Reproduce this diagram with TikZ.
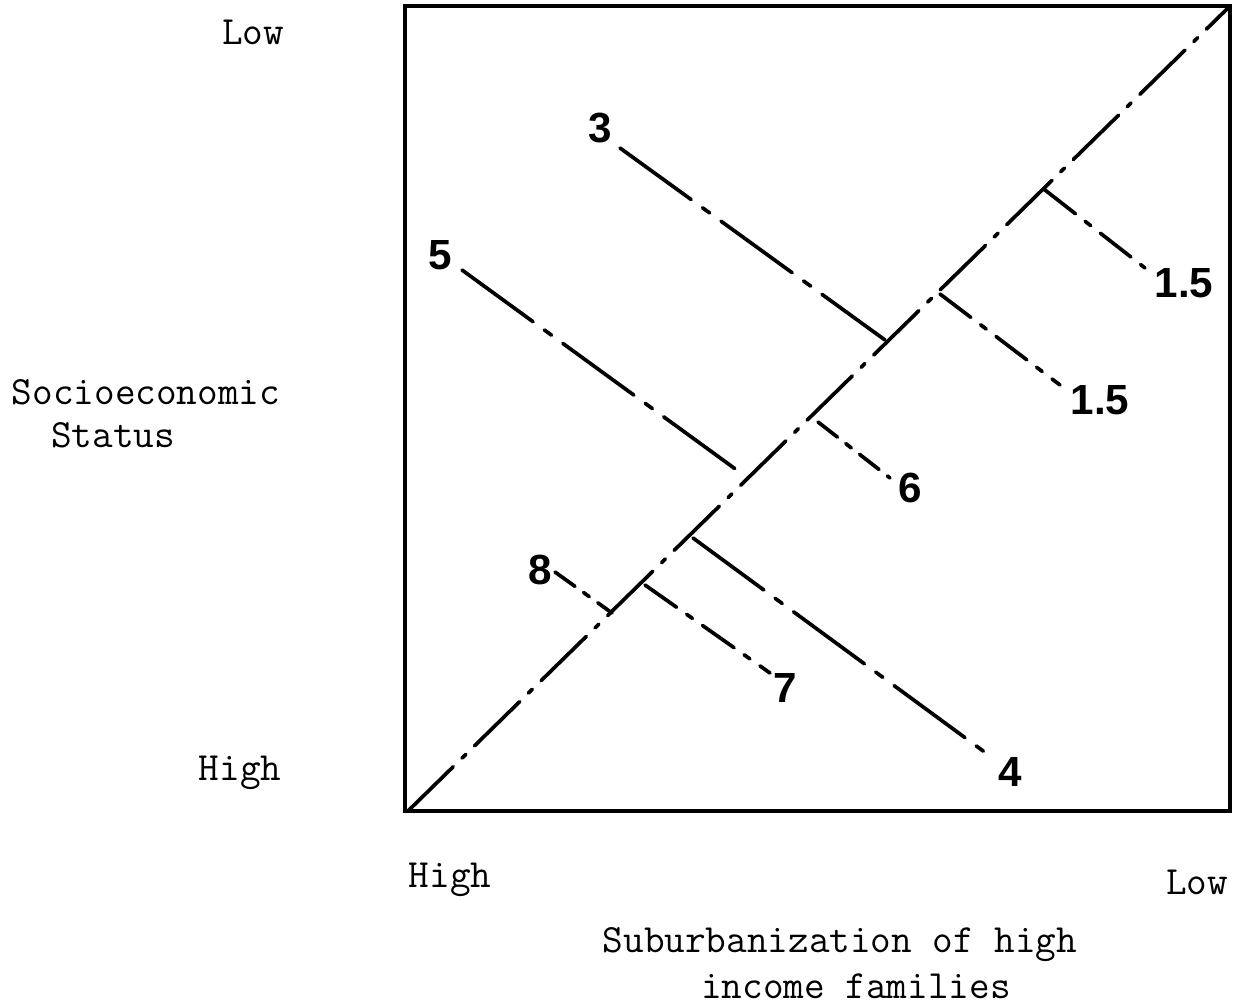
\documentclass[tikz,border=0pt]{standalone}
\usepackage{fontspec}
\newfontfamily\handfont{Liberation Sans}
\usepackage{tikz}
\usetikzlibrary{positioning,calc}
\tikzset{
  axislbl/.style={font=\ttfamily\fontsize{22.8}{26}\selectfont,inner sep=0pt},
  numlbl/.style={font=\handfont\bfseries\fontsize{24}{28}\selectfont,inner sep=0pt},
  diagline/.style={line width=2.1pt,line cap=round,dash pattern=on 36pt off 7pt on 3pt off 7pt},
  branchline/.style={line width=2.1pt,line cap=round,dash pattern=on 50pt off 8pt on 5pt off 8pt}
}

\begin{document}
\begin{tikzpicture}[x=0.02cm,y=-0.02cm]
\useasboundingbox (0,0) rectangle (1235,1008);
% frame
\draw[line width=2.6pt] (405,6) rectangle (1230,811);
\draw[diagline] (408,811) -- (1228,8);
% axis texts
\node[axislbl] (ylow) at (253,32) {Low};
\node[axislbl] (yhigh) at (240,773) {High};
\node[axislbl] (ytit1) at (146,392) {Socioeconomic};
\node[axislbl] (ytit2) at (113,435) {Status};
\node[axislbl] (xhigh) at (450,880) {High};
\node[axislbl] (xlow) at (1197,882) {Low};
\node[axislbl] (xtit1) at (840,945) {Suburbanization of high};
\node[axislbl] (xtit2) at (856,986) {income families};
% numbers
\node[numlbl] (n3) at (600,128) {3};
\node[numlbl] (n5) at (440,255) {5};
\node[numlbl] (n15a) at (1184,283) {1.5};
\node[numlbl] (n15b) at (1100,400) {1.5};
\node[numlbl] (n6) at (910,488) {6};
\node[numlbl] (n8) at (540,570) {8};
\node[numlbl] (n7) at (785,688) {7};
\node[numlbl] (n4) at (1010,772) {4};
% branches
\coordinate (a3) at (620,148);   \coordinate (b3) at (885,340);
\coordinate (a5) at (462,270);   \coordinate (b5) at (745,476);
\coordinate (a15a) at (1045,190); \coordinate (b15a) at (1145,268);
\coordinate (a15b) at (940,294);  \coordinate (b15b) at (1060,385);
\coordinate (a6) at (818,422);   \coordinate (b6) at (890,478);
\coordinate (a8) at (555,572);   \coordinate (b8) at (612,613);
\coordinate (a7) at (645,585);   \coordinate (b7) at (770,673);
\coordinate (a4) at (693,538);   \coordinate (b4) at (990,756);
\draw[branchline] (a3) -- (b3);
\draw[branchline] (a5) -- (b5);
\draw[branchline,dash pattern=on 22pt off 7pt on 4pt off 7pt] (a15a) -- (b15a);
\draw[branchline,dash pattern=on 22pt off 7pt on 4pt off 7pt] (a15b) -- (b15b);
\draw[branchline,dash pattern=on 14pt off 6pt on 4pt off 6pt] (a6) -- (b6);
\draw[branchline,dash pattern=on 14pt off 6pt on 4pt off 6pt] (a8) -- (b8);
\draw[branchline,dash pattern=on 22pt off 7pt on 4pt off 7pt] (a7) -- (b7);
\draw[branchline] (a4) -- (b4);
\end{tikzpicture}
\end{document}
